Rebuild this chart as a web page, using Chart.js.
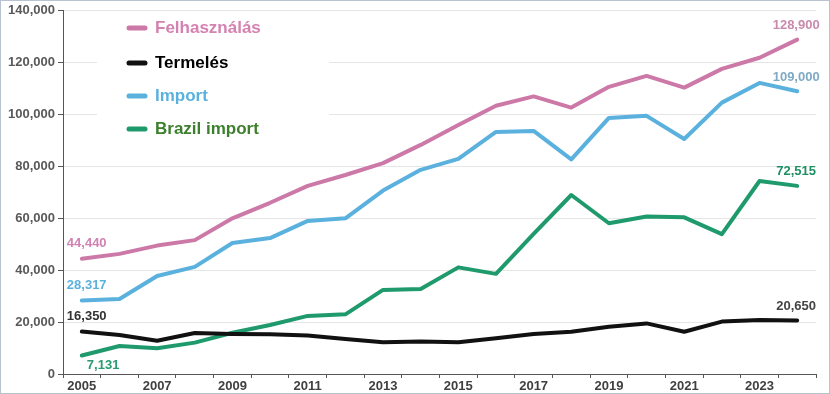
<!DOCTYPE html>
<html>
<head>
<meta charset="utf-8">
<script src="https://cdn.jsdelivr.net/npm/chart.js@4.4.1/dist/chart.umd.min.js"></script>
<style>
  html, body { margin: 0; padding: 0; background: #fff; }
  #wrap { width: 830px; height: 394px; }
</style>
</head>
<body>
<div id="wrap"><canvas id="grafikon"></canvas></div>
<script>
const evek = ['2005','2006','2007','2008','2009','2010','2011','2012','2013','2014',
              '2015','2016','2017','2018','2019','2020','2021','2022','2023','2024'];
const felhasznalas = [44440, 46300, 49500, 51600, 60000, 66000, 72500, 76700, 81300, 88300,
                      96000, 103400, 107000, 102700, 110700, 114900, 110400, 117600, 121900, 128900];
const termeles = [16350, 15000, 12800, 15800, 15400, 15300, 14800, 13500, 12200, 12500,
                  12200, 13800, 15400, 16300, 18200, 19500, 16300, 20200, 20800, 20650];
const importok = [28317, 28900, 37800, 41300, 50500, 52400, 59000, 60000, 70700, 78700,
                  82900, 93300, 93700, 82700, 98700, 99500, 90600, 104600, 112200, 109000];
const brazilImport = [7131, 10800, 9900, 12100, 15900, 18900, 22400, 23000, 32400, 32800,
                      41100, 38600, 54000, 69000, 58100, 60700, 60400, 53900, 74400, 72515];

const FONT = "'Liberation Sans', Arial, sans-serif";
const fmt = v => v.toLocaleString('en-US');

// legenda a diagram belsejében, fehér háttérrel
const legendaPlugin = {
  id: 'legenda',
  beforeDatasetsDraw(chart) {
    const c = chart.ctx;
    c.save();
    c.fillStyle = '#fff';
    c.fillRect(97, 13, 232, 140);
    const elemek = [
      ['Felhasználás', '#cc79a8', '#d482b2', 28],
      ['Termelés', '#111111', '#000000', 63],
      ['Import', '#5bb1de', '#5bb1de', 96],
      ['Brazil import', '#1f9a6c', '#3c7f2c', 129]
    ];
    c.font = "bold 17px " + FONT;
    c.textBaseline = 'middle';
    elemek.forEach(([szoveg, vonal, betu, y]) => {
      c.strokeStyle = vonal;
      c.lineWidth = 5;
      c.lineCap = 'round';
      c.beginPath();
      c.moveTo(129, y);
      c.lineTo(145, y);
      c.stroke();
      c.fillStyle = betu;
      c.fillText(szoveg, 155, y);
    });
    c.restore();
  },
  afterDraw(chart) {
    const c = chart.ctx;
    c.save();
    c.strokeStyle = '#b7c3cf';
    c.lineWidth = 1;
    c.strokeRect(0.5, 0.5, chart.width - 1, chart.height - 1);
    c.restore();
  }
};

// első és utolsó érték feliratai
const cimkePlugin = {
  id: 'cimkek',
  afterDatasetsDraw(chart) {
    const c = chart.ctx;
    const beallitas = [
      { bal: '#d083b3', jobb: '#c98aae', lent: false },
      { bal: '#333333', jobb: '#444444', lent: false },
      { bal: '#5bb1de', jobb: '#7fa9c4', lent: false },
      { bal: '#2a9a70', jobb: '#1f8f63', lent: true }
    ];
    c.save();
    c.font = "bold 13px " + FONT;
    c.textBaseline = 'middle';
    chart.data.datasets.forEach((ds, i) => {
      const meta = chart.getDatasetMeta(i);
      const elso = meta.data[0];
      const utolso = meta.data[meta.data.length - 1];
      const b = beallitas[i];
      c.fillStyle = b.bal;
      c.textAlign = 'left';
      if (b.lent) {
        c.fillText(fmt(ds.data[0]), elso.x + 5, elso.y + 10);
      } else {
        c.fillText(fmt(ds.data[0]), elso.x - 15, elso.y - 15);
      }
      c.fillStyle = b.jobb;
      c.textAlign = 'center';
      c.fillText(fmt(ds.data[ds.data.length - 1]), utolso.x - 1, utolso.y - 14);
    });
    c.restore();
  }
};

new Chart(document.getElementById('grafikon'), {
  type: 'line',
  data: {
    labels: evek,
    datasets: [
      { label: 'Felhasználás', data: felhasznalas, borderColor: '#cc79a8' },
      { label: 'Termelés', data: termeles, borderColor: '#111111' },
      { label: 'Import', data: importok, borderColor: '#5bb1de' },
      { label: 'Brazil import', data: brazilImport, borderColor: '#1f9a6c' }
    ]
  },
  options: {
    responsive: true,
    maintainAspectRatio: false,
    animation: false,
    layout: { padding: { top: 10, right: 14, left: 0, bottom: 0 } },
    elements: {
      line: { borderWidth: 4, tension: 0, borderCapStyle: 'round', borderJoinStyle: 'round' },
      point: { radius: 0 }
    },
    plugins: {
      legend: { display: false },
      tooltip: { enabled: false }
    },
    scales: {
      x: {
        offset: true,
        grid: { offset: true, drawOnChartArea: false, tickLength: 4, tickColor: '#555' },
        border: { color: '#555', width: 1 },
        ticks: {
          autoSkip: false,
          maxRotation: 0,
          padding: 1,
          color: '#404040',
          font: { family: FONT, size: 13, weight: 'bold' },
          callback: function (v, i) { return i % 2 === 0 ? this.getLabelForValue(v) : ''; }
        },
        afterFit: s => { s.height = 20; }
      },
      y: {
        min: 0,
        max: 140000,
        ticks: {
          stepSize: 20000,
          padding: 3,
          color: '#595959',
          font: { family: FONT, size: 13, weight: 'bold' },
          callback: v => fmt(v)
        },
        grid: { color: '#e6e6e6', tickLength: 5, tickColor: '#555' },
        border: { color: '#555', width: 1 },
        afterFit: s => { s.width = 63; }
      }
    }
  },
  plugins: [legendaPlugin, cimkePlugin]
});
</script>
</body>
</html>
